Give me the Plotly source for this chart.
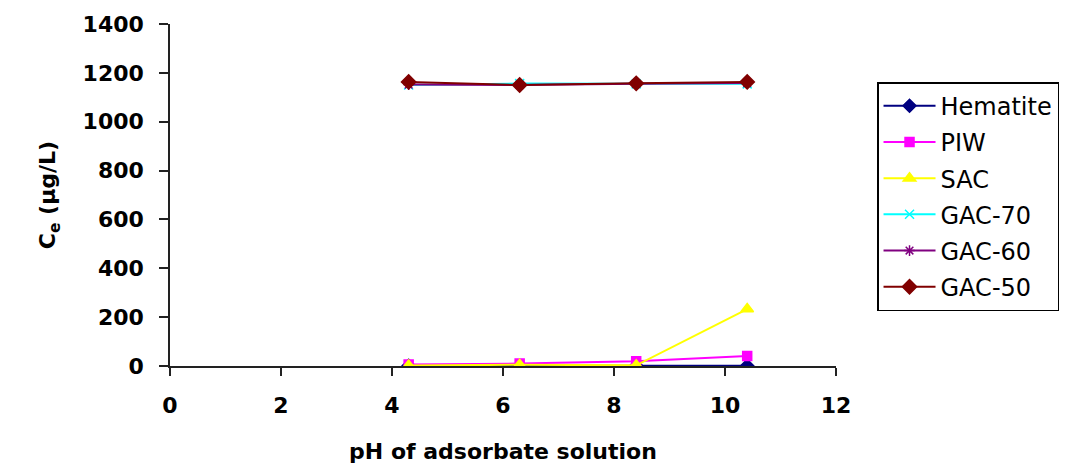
import plotly.graph_objects as go

ph = [4.3, 6.3, 8.4, 10.4]
hematite = [1, 1, 1, 1]
piw = [6, 10, 19, 41]
sac = [2, 5, 3, 233]
gac70 = [1150, 1156, 1155, 1155]
gac60 = [1152, 1150, 1155, 1158]
gac50 = [1163, 1150, 1157, 1163]

series = [
    ("Hematite", hematite, "#000080", "diamond", 10),
    ("PIW", piw, "#FF00FF", "square", 9),
    ("SAC", sac, "#FFFF00", "triangle-up", 11),
    ("GAC-70", gac70, "#00FFFF", "x-thin", 9),
    ("GAC-60", gac60, "#800080", "asterisk", 9),
    ("GAC-50", gac50, "#800000", "diamond", 11),
]

fig = go.Figure()
for name, vals, color, sym, size in series:
    fig.add_trace(go.Scatter(
        x=ph, y=vals, name=name, mode="lines+markers", legendgroup=name,
        line=dict(color=color, width=2, shape="linear"),
        marker=dict(symbol=sym, size=size, color=color,
                    line=dict(color=color, width=1.5)),
    ))

FAM = "DejaVu Sans, Arial, sans-serif"
tickfont = dict(family=FAM, size=22, color="black", weight="bold")

fig.update_layout(
    width=1071, height=471,
    margin=dict(l=162, r=243, t=16, b=113),
    paper_bgcolor="white", plot_bgcolor="white",
    font=dict(family=FAM, size=18, color="black"),
    xaxis=dict(
        range=[0, 12], tickvals=[0, 2, 4, 6, 8, 10, 12],
        showgrid=False, zeroline=False, showline=True, linecolor="#222", linewidth=1.5,
        ticks="outside", ticklen=8, tickcolor="#222", tickwidth=1.5,
        ticklabelstandoff=11, automargin=False,
        tickfont=tickfont,
        title=dict(text="pH of adsorbate solution", standoff=26,
                   font=dict(family=FAM, size=22, color="black", weight="bold")),
    ),
    yaxis=dict(
        range=[0, 1400], tickvals=list(range(0, 1401, 200)),
        showgrid=False, zeroline=False, showline=True, linecolor="#222", linewidth=1.5,
        ticks="outside", ticklen=9, tickcolor="#222", tickwidth=1.5,
        ticklabelstandoff=11, automargin=False,
        tickfont=tickfont,
        title=dict(text="C<sub>e</sub> (µg/L)", standoff=21,
                   font=dict(family=FAM, size=22, color="black", weight="bold")),
    ),
    legend=dict(
        x=1.0616, y=0.83, xanchor="left", yanchor="top",
        bordercolor="black", borderwidth=1.5, bgcolor="white",
        font=dict(family=FAM, size=24, color="black"),
        tracegroupgap=2, traceorder="grouped", itemwidth=52,
    ),
)

fig.write_html("out.html")
